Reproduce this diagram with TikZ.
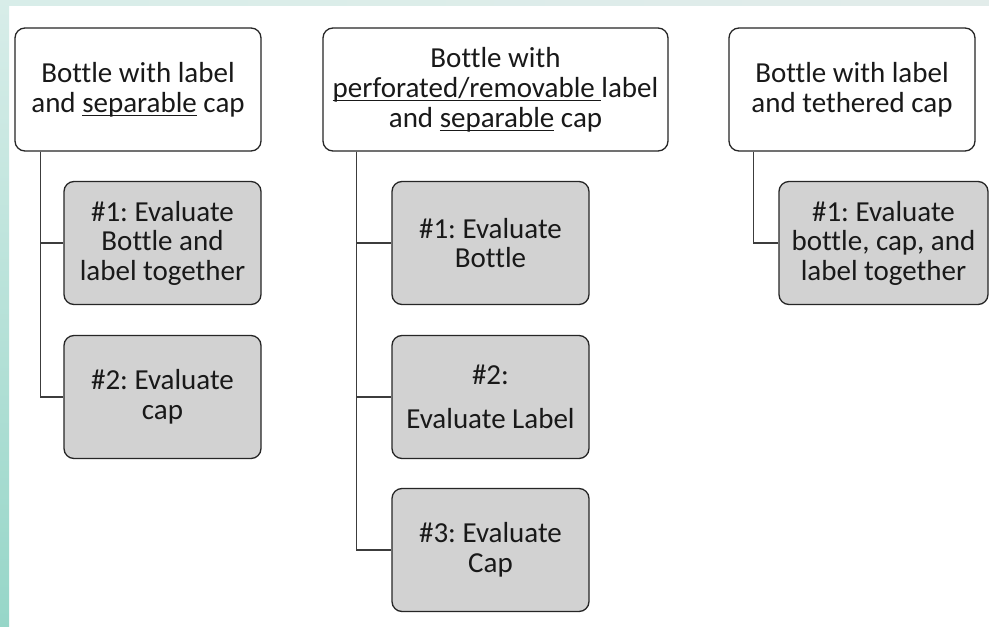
\documentclass[tikz,border=0pt]{standalone}
\usepackage{fontspec}
\setmainfont{Carlito}[Ligatures=NoCommon]
\usetikzlibrary{positioning}
\frenchspacing

\definecolor{boxgray}{RGB}{210,210,210}
\definecolor{linegray}{RGB}{60,60,60}
\definecolor{stripdark}{RGB}{150,214,200}
\definecolor{striplight}{RGB}{216,237,233}
\definecolor{stripgray}{RGB}{226,236,234}

% underline that crosses the descenders, as in the slide
\newsavebox{\undlbox}
\newcommand{\undl}[1]{\sbox{\undlbox}{#1}\rlap{\rule[-4.2pt]{\wd\undlbox}{1.4pt}}\usebox{\undlbox}}

\tikzset{
  parentbox/.style={draw=black!85, line width=1.3pt, fill=white, rounded corners=10pt,
    minimum width=246pt, minimum height=123pt, inner sep=0pt, align=center,
    text=black!90, font=\fontsize{29}{30}\selectfont},
  childbox/.style={parentbox, fill=boxgray, minimum width=197pt,
    font=\fontsize{29}{29.5}\selectfont},
  link/.style={draw=linegray, line width=1.3pt}
}

\begin{document}
\begin{tikzpicture}[x=1pt, y=-1pt]

    % Background
    \useasboundingbox (0,0) rectangle (989,627);
    \fill[white] (0,0) rectangle (989,627);
    \shade[left color=striplight, right color=stripgray] (0,0) rectangle (989,5);
    \shade[top color=striplight, bottom color=stripdark] (0,0) rectangle (9,627);

    % Top level boxes
    \node[parentbox] (bottleA) at (138,89.5) {Bottle with label\\and \undl{separable} cap};
    \node[parentbox, minimum width=345pt] (bottleB) at (495.5,89.5) {Bottle with\\\undl{perforated/removable\ }label\\and \undl{separable} cap};
    \node[parentbox] (bottleC) at (852,89.5) {Bottle with label\\and tethered cap};

    % Evaluation steps
    \node[childbox] (evalA1) at (162.5,243) {\#1: Evaluate\\Bottle and\\label together};
    \node[childbox] (evalA2) at (162.5,397) {\#2: Evaluate\\cap};

    \node[childbox] (evalB1) at (490.5,243) {\#1: Evaluate\\Bottle};
    \node[childbox] (evalB2) at (490.5,397) {\#2:\\[14pt]Evaluate Label};
    \node[childbox] (evalB3) at (490.5,550) {\#3: Evaluate\\Cap};

    \node[childbox, minimum width=209pt] (evalC1) at (883.5,243) {\#1: Evaluate\\bottle, cap, and\\label together};

    % Connectors
    \draw[link] ([xshift=26pt]bottleA.south west) |- (evalA1.west);
    \draw[link] ([xshift=26pt]bottleA.south west) |- (evalA2.west);
    \draw[link] ([xshift=34pt]bottleB.south west) |- (evalB1.west);
    \draw[link] ([xshift=34pt]bottleB.south west) |- (evalB2.west);
    \draw[link] ([xshift=34pt]bottleB.south west) |- (evalB3.west);
    \draw[link] ([xshift=25pt]bottleC.south west) |- (evalC1.west);
\end{tikzpicture}
\end{document}
